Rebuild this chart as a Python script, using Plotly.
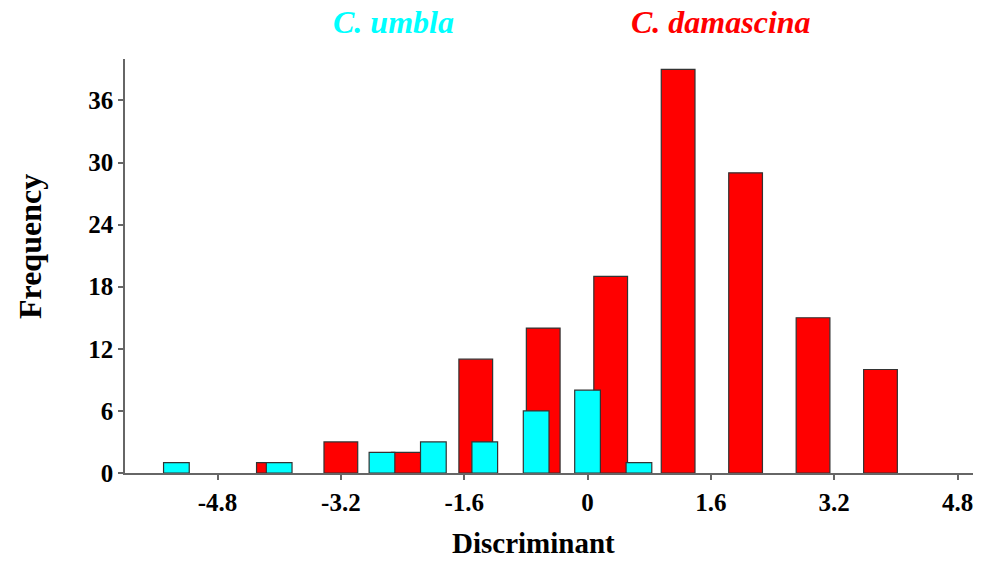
import plotly.graph_objects as go

# Discriminant score bins (centres) and counts per species
damascina_centres = [-4.075, -3.2, -2.325, -1.45, -0.575, 0.3, 1.175, 2.05, 2.925, 3.8]
damascina_counts = [1, 3, 2, 11, 14, 19, 39, 29, 15, 10]
damascina_width = 0.4375

umbla_centres = [-16/3, -4.0, -8/3, -2.0, -4/3, -2/3, 0.0, 2/3]
umbla_counts = [1, 1, 2, 3, 3, 6, 8, 1]
umbla_width = 1/3

x_ticks = [-4.8, -3.2, -1.6, 0, 1.6, 3.2, 4.8]
x_tick_text = ["-4.8", "-3.2", "-1.6", "0", "1.6", "3.2", "4.8"]
y_ticks = [0, 6, 12, 18, 24, 30, 36]

SERIF = "Liberation Serif"
RED = "#FF0000"
CYAN = "#00FFFF"

L, R, T, B = 125, 13, 59, 89
W, H = 986, 562

fig = go.Figure()
fig.add_trace(go.Bar(
    x=damascina_centres, y=damascina_counts, width=damascina_width,
    marker=dict(color=RED, line=dict(color="#333333", width=1.2)),
    name="C. damascina", showlegend=False,
))
fig.add_trace(go.Bar(
    x=umbla_centres, y=umbla_counts, width=umbla_width,
    marker=dict(color=CYAN, line=dict(color="#333333", width=1.2)),
    name="C. umbla", showlegend=False,
))

axis_font = dict(family=SERIF, size=25, color="black", weight="bold")

fig.update_layout(
    width=W, height=H,
    margin=dict(l=L, r=R, t=T, b=B, autoexpand=False),
    paper_bgcolor="white", plot_bgcolor="white",
    barmode="overlay",
    xaxis=dict(
        range=[-6, 5], tickmode="array", tickvals=x_ticks, ticktext=x_tick_text,
        showgrid=False, zeroline=False, showline=True, linecolor="#666666", linewidth=1.5,
        ticks="outside", ticklen=5, tickcolor="#666666", tickwidth=1.5,
        ticklabelstandoff=1, tickfont=axis_font, automargin=False,
    ),
    yaxis=dict(
        range=[0, 40], tickmode="array", tickvals=y_ticks,
        showgrid=False, zeroline=False, showline=True, linecolor="#666666", linewidth=1.5,
        ticks="outside", ticklen=5, tickcolor="#666666", tickwidth=1.5,
        ticklabelstandoff=0, tickfont=axis_font, automargin=False,
    ),
)


def px_to_paper(px, py):
    return (px - L) / (W - L - R), 1 - (py - T) / (H - T - B)


# Axis titles, positioned in pixels
x, y = px_to_paper(533, 561)
fig.add_annotation(text="Discriminant", x=x, y=y, xref="paper", yref="paper",
                   xanchor="center", yanchor="bottom", showarrow=False,
                   font=dict(family=SERIF, size=29, color="black", weight="bold"))
x, y = px_to_paper(30, 247)
fig.add_annotation(text="Frequency", x=x, y=y, xref="paper", yref="paper", textangle=-90,
                   xanchor="center", yanchor="middle", showarrow=False,
                   font=dict(family=SERIF, size=32, color="black", weight="bold"))

# Species labels above the plot
species_labels = [("C. umbla", 393, CYAN), ("C. damascina", 721, RED)]
for text, px, colour in species_labels:
    x, y = px_to_paper(px, 22)
    fig.add_annotation(
        text=f"<b><i>{text}</i></b>", x=x, y=y,
        xref="paper", yref="paper", xanchor="center", yanchor="middle",
        showarrow=False, font=dict(family=SERIF, size=32, color=colour),
    )

fig.write_html("out.html")
